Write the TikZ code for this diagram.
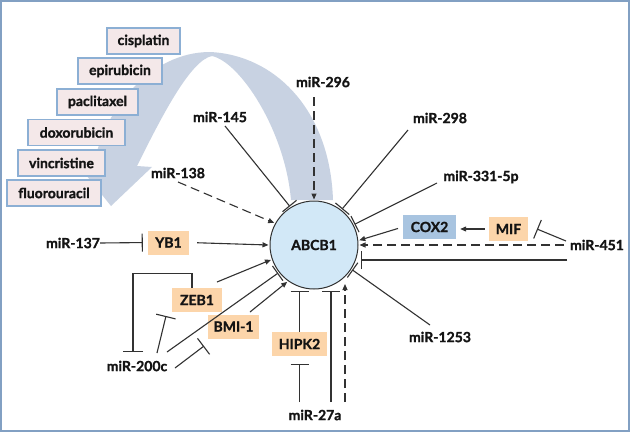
\documentclass[tikz,border=0pt]{standalone}
\usepackage{fontspec}
\setmainfont{Lato}[BoldFeatures={FakeBold=1.3}]
\usetikzlibrary{arrows.meta,calc}
\definecolor{framec}{RGB}{130,160,195}
\definecolor{arrowc}{RGB}{200,210,226}
\definecolor{drugfill}{RGB}{244,232,233}
\definecolor{drugline}{RGB}{140,175,212}
\definecolor{orangec}{RGB}{252,213,170}
\definecolor{coxc}{RGB}{168,196,224}
\definecolor{circc}{RGB}{210,232,247}
\definecolor{linec}{RGB}{50,50,50}
\definecolor{textc}{RGB}{20,20,20}
\begin{document}
\begin{tikzpicture}[x=1pt,y=-1pt,
  lbl/.style={font=\bfseries\fontsize{14}{16}\selectfont, text=textc, inner sep=0pt},
  drug/.style={lbl, draw=drugline, fill=drugfill, line width=1.5pt, minimum height=26pt},
  obox/.style={lbl, fill=orangec, minimum height=24pt},
  con/.style={draw=linec, line width=1.1pt},
  act/.style={con, -{Triangle[length=6pt,width=5pt]}},
  dact/.style={act, dash pattern=on 9pt off 5pt},
  inh/.style={con, -{Bar[width=18pt,line width=1.1pt]}},
  inhw/.style={con, -{Bar[width=20pt,line width=1.1pt]}},
]
\useasboundingbox (0,0) rectangle (630,432);
\fill[white] (0,0) rectangle (630,432);
\draw[framec, line width=1.5pt] (1,1) rectangle (629,431);

% big curved arrow
\fill[arrowc] (333,200) .. controls (330,110) and (275,55) .. (210,52)
  .. controls (150,52) and (105,110) .. (95,160) -- (78,165) -- (111,206)
  -- (152,167) -- (137,166) .. controls (160,120) and (190,60) .. (212,56)
  .. controls (240,62) and (285,130) .. (291,200) -- cycle;

% drug boxes
\node[drug, minimum width=73pt] (cis) at (143.5,41) {cisplatin};
\node[drug, minimum width=84pt] (epi) at (120,71) {epirubicin};
\node[drug, minimum width=81pt] (pac) at (97.5,102) {paclitaxel};
\node[drug, minimum width=97pt] (dox) at (76.5,132.5) {doxorubicin};
\node[drug, minimum width=87pt] (vin) at (61.5,163) {vincristine};
\node[drug, minimum width=94pt] (flu) at (54,193) {fluorouracil};

% central node
\node[lbl, circle, draw=linec, line width=1pt, fill=circc, minimum size=88pt, outer sep=1.5pt] (abcb) at (314,245) {ABCB1};

% protein boxes
\node[obox, minimum width=41pt] (yb1) at (168.5,242.5) {YB1};
\node[obox, minimum width=50pt] (zeb1) at (197,300) {ZEB1};
\node[obox, minimum width=51pt] (bmi1) at (233.5,326.5) {BMI-1};
\node[obox, minimum width=55pt] (hipk2) at (299.5,344) {HIPK2};
\node[obox, fill=coxc, minimum width=53pt] (cox2) at (429.5,227) {COX2};
\node[obox, minimum width=39pt] (mif) at (508.5,229) {MIF};

% miRNA labels
\node[lbl] (m145) at (220,117) {miR-145};
\node[lbl] (m296) at (323,82) {miR-296};
\node[lbl] (m298) at (440,118) {miR-298};
\node[lbl] (m331) at (481,177) {miR-331-5p};
\node[lbl] (m138) at (178,173) {miR-138};
\node[lbl] (m137) at (73,243) {miR-137};
\node[lbl] (m200c) at (137,366) {miR-200c};
\node[lbl] (m27a) at (315,415) {miR-27a};
\node[lbl] (m1253) at (440,337) {miR-1253};
\node[lbl] (m451) at (597,245) {miR-451};

% connector end points
\coordinate (s145) at (225,126);
\coordinate (s296) at (314,97);
\coordinate (s298) at (408,130);
\coordinate (s331) at (437,183);
\coordinate (s138) at (178,182);
\coordinate (szeb) at (217,282);
\coordinate (sbmi) at (250,312);
\coordinate (s200a) at (167,352);
\coordinate (s200b) at (157,353);
\coordinate (t200b) at (166,316);
\coordinate (s200c) at (175,368);
\coordinate (t200c) at (204,346);
\coordinate (b200) at (133,352);
\coordinate (s27a) at (299.5,402);
\coordinate (s27b) at (331,402);
\coordinate (t27b) at (331,291);
\coordinate (s27c) at (345,402);
\coordinate (t27c) at (345,284);
\coordinate (s1253) at (430,325);
\coordinate (s451a) at (566,241);
\coordinate (t451a) at (537,229);
\coordinate (s451b) at (564,245);
\coordinate (s451c) at (567,260);
\coordinate (t451c) at (361,260);

% connectors
\draw[inh] (s145) -- (abcb.122);
\draw[dact] (s296) -- (abcb.90);
\draw[inh] (s298) -- (abcb.52);
\draw[inh] (s331) -- (abcb.27);
\draw[dact] (s138) -- (abcb.151);
\draw[inh, shorten >=5pt] (m137.east) -- (yb1.west);
\draw[act, shorten <=8pt] (yb1.east) -- (abcb.180);
\draw[act] (szeb) -- (abcb.199);
\draw[inh] (s200a) -- (abcb.218);
\draw[act] (sbmi) -- (abcb.234);
\draw[inhw] (s200b) -- (t200b);
\draw[inhw] (s200c) -- (t200c);
\draw[inhw] ($(zeb1.north)+(-5,0)$) -- ++(0,-14) -| (b200);
\draw[inh] (hipk2.north) -- (hipk2.north |- abcb.south);
\draw[inh, shorten >=8pt] (s27a) -- (hipk2.south);
\draw[inh] (s27b) -- (t27b);
\draw[dact] (s27c) -- (t27c);
\draw[inh] (s1253) -- (abcb.-33);
\draw[act, shorten <=5pt] (cox2.west) -- (abcb.6);
\draw[act, shorten <=4pt, shorten >=4pt] (mif.west) -- (mif.west -| cox2.east);
\draw[inhw] (s451a) -- (t451a);
\draw[dact] (s451b) -- (abcb.0);
\draw[inh] (s451c) -- (t451c);
\end{tikzpicture}
\end{document}
